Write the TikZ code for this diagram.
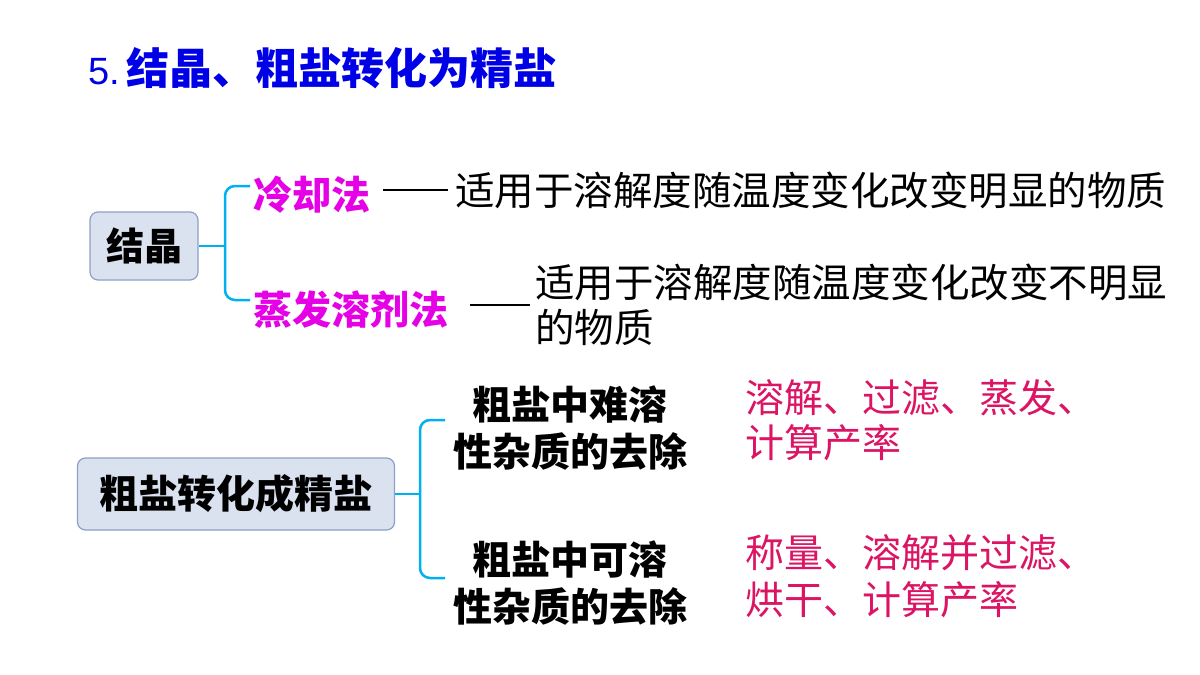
\documentclass[tikz,border=0pt]{standalone}
\usepackage{fontspec}
\newfontfamily\cjk{Noto Sans CJK SC}
\newfontfamily\lat{Liberation Sans}
\begin{document}
\begin{tikzpicture}[x=1pt,y=-1pt,
 box/.style={draw={rgb,255:red,140;green,160;blue,200},fill={rgb,255:red,218;green,226;blue,240},rounded corners=8pt,line width=1.2pt,inner sep=0pt},
 brk/.style={draw={rgb,255:red,0;green,176;blue,240},line width=2.5pt,rounded corners=10pt},
 t/.style={inner sep=0pt,anchor=west,font=\cjk\fontsize{39.5}{46}\selectfont},
 pk/.style={t,font=\cjk\fontsize{39}{46}\selectfont,text={rgb,255:red,220;green,20;blue,100}},
 mg/.style={t,font=\cjk\bfseries\fontsize{39}{46}\selectfont,text={rgb,255:red,230;green,0;blue,230}}]
\useasboundingbox (0,0) rectangle (1200,675);
\fill[white] (0,0) rectangle (1200,675);
\node[anchor=west,inner sep=0pt,text={rgb,255:red,0;green,0;blue,230}] (title) at (88,68) {\lat\fontsize{38}{40}\selectfont 5.\,\cjk\bfseries\fontsize{43}{46}\selectfont 结晶、粗盐转化为精盐};
\node[box,minimum width=108pt,minimum height=68pt] (jj) at (144,246) {};
\node[t,anchor=center,font=\cjk\bfseries\fontsize{38}{46}\selectfont] at (jj) {结晶};
\draw[brk] (jj.east) -- (225,246);
\draw[brk] (250,186) -- (225,186) -- (225,300) -- (250,300);
\node[mg] (lq) at (253,195) {冷却法};
\draw[line width=1.5pt] (383,190) -- (448,190);
\node[t] at (455,190) {适用于溶解度随温度变化改变明显的物质};
\node[mg] (zf) at (253,310) {蒸发溶剂法};
\draw[line width=1.5pt] (470,305) -- (530,305);
\node[t] at (535,282) {适用于溶解度随温度变化改变不明显};
\node[t] at (535,327) {的物质};
\node[box,minimum width=317pt,minimum height=72pt] (cy) at (236,494) {};
\node[t,anchor=center,font=\cjk\bfseries\fontsize{39}{46}\selectfont] at (cy) {粗盐转化成精盐};
\draw[brk] (cy.east) -- (420,494);
\draw[brk] (445,420) -- (420,420) -- (420,578) -- (445,578);
\node[t,anchor=center,align=center,font=\cjk\bfseries\fontsize{39}{47}\selectfont] at (570,428) {粗盐中难溶\\性杂质的去除};
\node[t,anchor=center,align=center,font=\cjk\bfseries\fontsize{39}{47}\selectfont] at (570,583) {粗盐中可溶\\性杂质的去除};
\node[pk] at (745,398) {溶解、过滤、蒸发、};
\node[pk] at (745,443) {计算产率};
\node[pk] at (745,553) {称量、溶解并过滤、};
\node[pk] at (745,600) {烘干、计算产率};
\end{tikzpicture}
\end{document}
